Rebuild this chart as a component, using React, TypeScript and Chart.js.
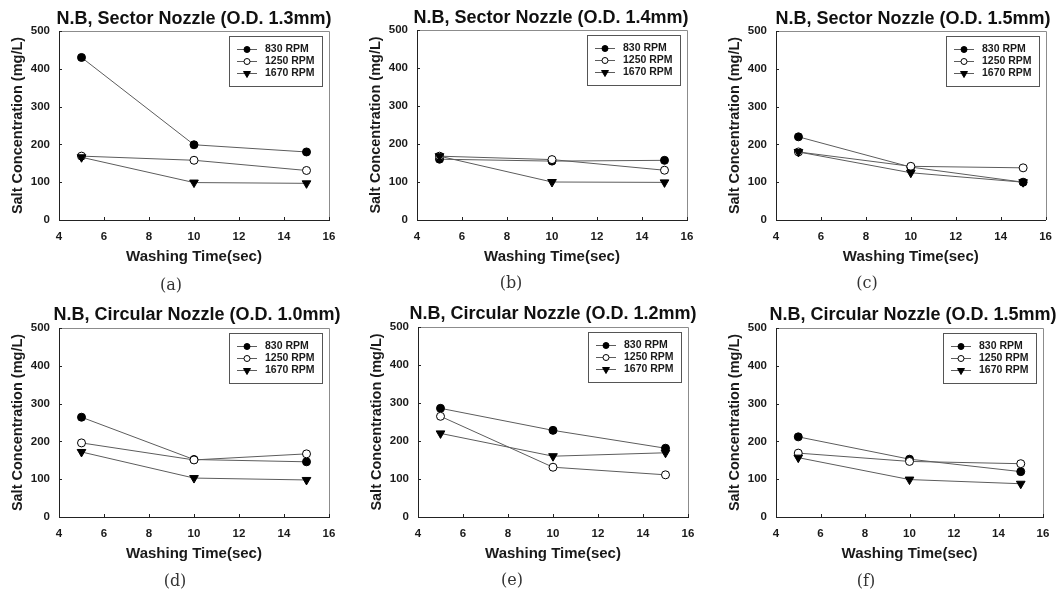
import React, { useEffect, useRef } from 'react';
import { Chart, registerables } from 'chart.js';
import { drawPoint } from 'chart.js/helpers';

Chart.register(...registerables);

// ---------- data ----------
const washTimes = [5, 10, 15];
const xTickValues = [4, 6, 8, 10, 12, 14, 16];
const yTickValues = [0, 100, 200, 300, 400, 500];
const rpmLabels = ['830 RPM', '1250 RPM', '1670 RPM'];

const panelTitles = [
  'N.B, Sector Nozzle (O.D. 1.3mm)',
  'N.B, Sector Nozzle (O.D. 1.4mm)',
  'N.B, Sector Nozzle (O.D. 1.5mm)',
  'N.B, Circular Nozzle (O.D. 1.0mm)',
  'N.B, Circular Nozzle (O.D. 1.2mm)',
  'N.B, Circular Nozzle (O.D. 1.5mm)',
];
const panelTags = ['(a)', '(b)', '(c)', '(d)', '(e)', '(f)'];

const xAxisTitle = 'Washing Time(sec)';
const yAxisTitle = 'Salt Concentration (mg/L)';

// (a) Sector 1.3mm
const a830 = [430, 199, 180];
const a1250 = [169, 158, 131];
const a1670 = [166, 99, 97];
// (b) Sector 1.4mm
const b830 = [160, 155, 157];
const b1250 = [168, 159, 131];
const b1670 = [168, 100, 99];
// (c) Sector 1.5mm
const c830 = [220, 140, 100];
const c1250 = [180, 142, 138];
const c1670 = [180, 125, 100];
// (d) Circular 1.0mm
const d830 = [264, 152, 146];
const d1250 = [196, 151, 167];
const d1670 = [172, 103, 98];
// (e) Circular 1.2mm
const e830 = [286, 228, 181];
const e1250 = [265, 131, 111];
const e1670 = [220, 160, 169];
// (f) Circular 1.5mm
const f830 = [212, 153, 120];
const f1250 = [169, 147, 141];
const f1670 = [157, 99, 88];

const panelSeries = [
  [a830, a1250, a1670],
  [b830, b1250, b1670],
  [c830, c1250, c1670],
  [d830, d1250, d1670],
  [e830, e1250, e1670],
  [f830, f1250, f1670],
];

// ---------- layout (positions only) ----------
const PANEL_W = 354;
const PANEL_H = 296;
const XAXIS_H = 57;
const layouts = [
  { x0: 0, y0: 0, L: 59, R: 329, T: 31, B: 220, titleX: 194, titleY: 18, tagX: 171, tagY: 285 },
  { x0: 354, y0: 0, L: 63, R: 333, T: 30, B: 220, titleX: 551, titleY: 17, tagX: 511, tagY: 283 },
  { x0: 708, y0: 0, L: 68, R: 338, T: 31, B: 220, titleX: 913, titleY: 18, tagX: 867, tagY: 283 },
  { x0: 0, y0: 296, L: 59, R: 329, T: 32, B: 221, titleX: 197, titleY: 314, tagX: 175, tagY: 581 },
  { x0: 354, y0: 296, L: 64, R: 334, T: 31, B: 221, titleX: 553, titleY: 313, tagX: 512, tagY: 580 },
  { x0: 708, y0: 296, L: 68, R: 335, T: 32, B: 221, titleX: 913, titleY: 314, tagX: 866, tagY: 581 },
];

const SANS = '"Liberation Sans", Arial, sans-serif';
const LINE_COLOR = '#5c5c5c';
const INK = '#1a1a1a';

const markerStyles = [
  { pointStyle: 'circle', pointBackgroundColor: '#000', pointRadius: 4, pointRotation: 0 },
  { pointStyle: 'circle', pointBackgroundColor: '#fff', pointRadius: 4, pointRotation: 0 },
  { pointStyle: 'triangle', pointBackgroundColor: '#000', pointRadius: 5, pointRotation: 180 },
];

// ---------- plugins ----------
const framePlugin = {
  id: 'frame',
  beforeDatasetsDraw(chart: any) {
    const { ctx, chartArea } = chart;
    const { left, right, top, bottom } = chartArea;
    ctx.save();
    ctx.strokeStyle = '#8c8c8c';
    ctx.lineWidth = 1;
    ctx.beginPath();
    ctx.moveTo(left, Math.round(top) + 0.5);
    ctx.lineTo(Math.round(right) + 0.5, Math.round(top) + 0.5);
    ctx.lineTo(Math.round(right) + 0.5, bottom);
    ctx.stroke();
    // inward ticks
    ctx.strokeStyle = '#222';
    const xs = chart.scales.x;
    const ys = chart.scales.y;
    ctx.beginPath();
    xs.ticks.forEach((t: any) => {
      const px = Math.round(xs.getPixelForValue(t.value)) + 0.5;
      ctx.moveTo(px, bottom);
      ctx.lineTo(px, bottom - 3);
    });
    ys.ticks.forEach((t: any) => {
      const py = Math.round(ys.getPixelForValue(t.value)) + 0.5;
      ctx.moveTo(left, py);
      ctx.lineTo(left + 3, py);
    });
    ctx.stroke();
    ctx.restore();
  },
};

const boxLegendPlugin = {
  id: 'boxLegend',
  afterDatasetsDraw(chart: any) {
    const { ctx, chartArea } = chart;
    const w = 93;
    const h = 50;
    const x = Math.round(chartArea.right - 7 - w);
    const y = Math.round(chartArea.top + 5);
    ctx.save();
    ctx.fillStyle = '#fff';
    ctx.fillRect(x, y, w, h);
    ctx.strokeStyle = '#555';
    ctx.lineWidth = 1;
    ctx.strokeRect(x + 0.5, y + 0.5, w, h);
    chart.data.datasets.forEach((ds: any, i: number) => {
      const cy = y + 13 + i * 12;
      ctx.strokeStyle = ds.borderColor;
      ctx.lineWidth = 1;
      ctx.beginPath();
      ctx.moveTo(x + 8, cy + 0.5);
      ctx.lineTo(x + 28, cy + 0.5);
      ctx.stroke();
      ctx.fillStyle = ds.pointBackgroundColor;
      ctx.strokeStyle = ds.pointBorderColor;
      drawPoint(
        ctx,
        {
          pointStyle: ds.pointStyle,
          rotation: ds.pointRotation,
          radius: ds.pointStyle === 'triangle' ? 4 : 3,
          borderWidth: 1,
        },
        x + 18,
        cy + 0.5
      );
      ctx.fillStyle = INK;
      ctx.font = `bold 10.5px ${SANS}`;
      ctx.textAlign = 'left';
      ctx.textBaseline = 'middle';
      ctx.fillText(ds.label, x + 36, cy + 0.5);
    });
    ctx.restore();
  },
};

function Panel({ index }: { index: number }) {
  const ref = useRef<HTMLCanvasElement | null>(null);
  const lay = layouts[index];

  useEffect(() => {
    if (!ref.current) return;
    const series = panelSeries[index];
    const datasets = series.map((vals, si) => ({
      label: rpmLabels[si],
      data: washTimes.map((t, k) => ({ x: t, y: vals[k] })),
      borderColor: LINE_COLOR,
      borderWidth: 1,
      pointBorderColor: '#000',
      pointBorderWidth: 1,
      order: 2 - si,
      ...markerStyles[si],
    }));
    const yTitleFont = 14.5;
    const chart = new Chart(ref.current, {
      type: 'line',
      data: { datasets },
      options: {
        animation: false,
        responsive: false,
        devicePixelRatio: 1,
        layout: {
          padding: {
            left: 0,
            right: PANEL_W - lay.R,
            top: lay.T,
            bottom: PANEL_H - lay.B - XAXIS_H,
          },
        },
        plugins: {
          legend: { display: false },
          title: { display: false },
          tooltip: { enabled: false },
        },
        scales: {
          x: {
            type: 'linear',
            min: 4,
            max: 16,
            afterBuildTicks: (s: any) => {
              s.ticks = xTickValues.map((v) => ({ value: v }));
            },
            afterFit: (s: any) => {
              s.height = XAXIS_H;
            },
            grid: { display: false, drawTicks: false },
            border: { display: true, color: '#222', width: 1 },
            ticks: {
              padding: 10,
              color: INK,
              font: { family: SANS, size: 11.5, weight: 'bold' },
              maxRotation: 0,
            },
            title: {
              display: true,
              text: xAxisTitle,
              color: INK,
              font: { family: SANS, size: 15, weight: 'bold' },
              padding: { top: 0, bottom: 11 },
            },
          },
          y: {
            type: 'linear',
            min: 0,
            max: 500,
            afterBuildTicks: (s: any) => {
              s.ticks = yTickValues.map((v) => ({ value: v }));
            },
            afterFit: (s: any) => {
              s.width = lay.L;
            },
            grid: { display: false, drawTicks: false },
            border: { display: true, color: '#222', width: 1 },
            ticks: {
              padding: 9,
              color: INK,
              font: { family: SANS, size: 11.5, weight: 'bold' },
            },
            title: {
              display: true,
              text: yAxisTitle,
              color: INK,
              font: { family: SANS, size: yTitleFont, weight: 'bold' },
              padding: { top: lay.L - 41 - (yTitleFont * 1.2) / 2, bottom: 0 },
            },
          },
        },
      },
      plugins: [framePlugin, boxLegendPlugin],
    } as any);
    return () => chart.destroy();
  }, [index]);

  return (
    <>
      <canvas
        ref={ref}
        width={PANEL_W}
        height={PANEL_H}
        style={{ position: 'absolute', left: lay.x0, top: lay.y0, width: PANEL_W, height: PANEL_H }}
      />
      <div
        style={{
          position: 'absolute',
          left: lay.titleX,
          top: lay.titleY - 11,
          transform: 'translateX(-50%)',
          whiteSpace: 'nowrap',
          font: `bold 18px ${SANS}`,
          lineHeight: '22px',
          color: '#111',
        }}
      >
        {panelTitles[index]}
      </div>
      <div
        style={{
          position: 'absolute',
          left: lay.tagX,
          top: lay.tagY - 10,
          transform: 'translateX(-50%)',
          whiteSpace: 'nowrap',
          font: '16px "DejaVu Serif", "Liberation Serif", serif',
          lineHeight: '20px',
          color: '#333',
        }}
      >
        {panelTags[index]}
      </div>
    </>
  );
}

export default function App() {
  return (
    <div
      style={{
        position: 'absolute',
        left: 0,
        top: 0,
        width: 1062,
        height: 592,
        background: '#fff',
        overflow: 'hidden',
      }}
    >
      {layouts.map((_, i) => (
        <Panel key={i} index={i} />
      ))}
    </div>
  );
}
